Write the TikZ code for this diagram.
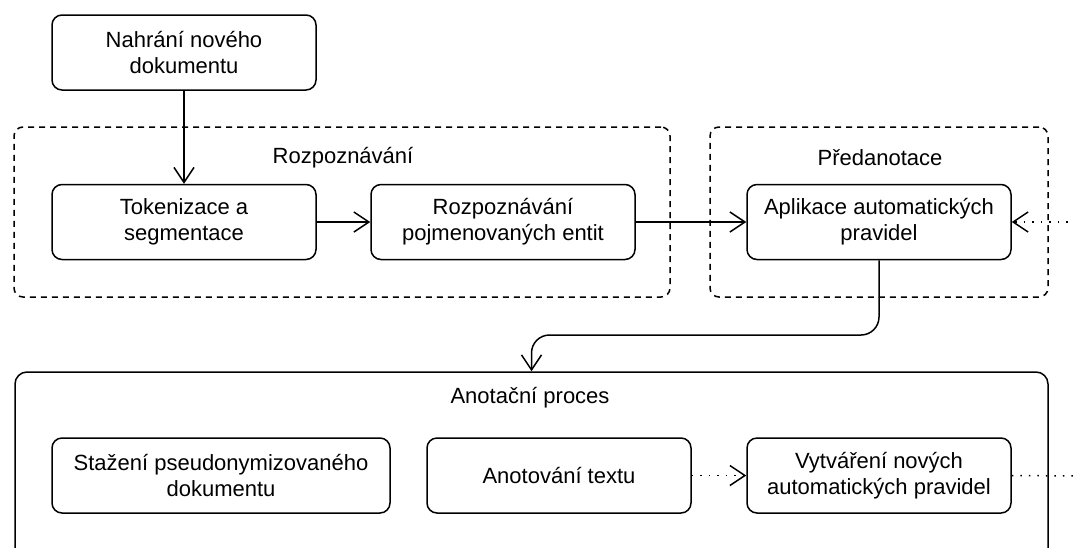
\documentclass[tikz,border=0pt]{standalone}
\usepackage{fontspec}
\setmainfont{Liberation Sans}
\usetikzlibrary{arrows.meta}
\begin{document}
\begin{tikzpicture}[x=1pt,y=-1pt,
  every node/.style={font=\fontsize{22}{26}\selectfont},
  box/.style={draw, line width=1.5pt, rounded corners=10pt, minimum width=264pt, minimum height=75pt, align=center, inner sep=0pt},
  group/.style={draw, line width=1.5pt, rounded corners=9pt, dash pattern=on 6pt off 5pt, inner sep=0pt},
  bigbox/.style={draw, line width=1.5pt, rounded corners=12pt, inner sep=0pt},
  tip/.style={-{Straight Barb[length=15pt,width=20pt,line width=1.5pt]}},
  conn/.style={line width=1.5pt, tip},
  dotline/.style={line width=1.5pt, dash pattern=on 1.5pt off 7pt},
  glabel/.style={inner sep=0pt}
]
\clip (0,0) rectangle (1075,547);
% groups
\node[group, minimum width=656pt, minimum height=170pt] (grp1) at (342,212) {};
\node[group, minimum width=338pt, minimum height=170pt] (grp2) at (879,212) {};
\node[bigbox, minimum width=1033pt, minimum height=220pt] (anot) at (531.5,482) {};
\node[glabel] (l1) at (343,158) {Rozpoznávání};
\node[glabel] (l2) at (880,158) {Předanotace};
\node[glabel] (l3) at (530,398) {Anotační proces};
% boxes
\node[box] (nah) at (184,52.5) {Nahrání nového\\dokumentu};
\node[box] (tok) at (184,222) {Tokenizace a\\segmentace};
\node[box] (roz) at (503,222) {Rozpoznávání\\pojmenovaných entit};
\node[box] (apl) at (879,222) {Aplikace automatických\\pravidel};
\node[box, minimum width=338pt] (sta) at (221,475.5) {Stažení pseudonymizovaného\\dokumentu};
\node[box] (ano) at (559,475.5) {Anotování textu};
\node[box] (vyt) at (879,475.5) {Vytváření nových\\automatických pravidel};
% coordinates
\coordinate (rin) at (1076,222);
\coordinate (rout) at (1076,476);
\coordinate (bend) at (531.5,335);
% connectors
\draw[conn] (nah.south) -- (tok.north);
\draw[conn] (tok.east) -- (roz.west);
\draw[conn] (roz.east) -- (apl.west);
\draw[conn, rounded corners=18pt] (apl.south) |- (bend) -- (anot.north);
\draw[dotline, tip] (rin) -- (apl.east);
\draw[dotline, tip] (ano.east) -- (vyt.west);
\draw[dotline] (vyt.east) -- (rout);
\end{tikzpicture}
\end{document}
